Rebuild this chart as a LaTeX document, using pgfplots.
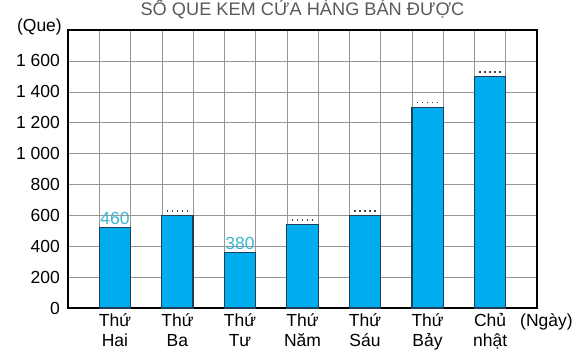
\documentclass[border=0pt]{standalone}
\usepackage{fontspec}
\setmainfont{Liberation Sans}
\usepackage{pgfplots}
\pgfplotsset{compat=1.18}
\definecolor{barfill}{RGB}{0,174,239}
\definecolor{barline}{RGB}{30,62,90}
\definecolor{lblcol}{RGB}{60,180,210}
\definecolor{gridc}{RGB}{150,150,150}
\definecolor{titlec}{RGB}{90,90,90}
\newcommand{\dotrule}{{\color{black!75}\hbox to 25bp{\leaders\hbox to 5bp{\hss\rule{1.4bp}{1.4bp}\hss}\hfill}}}
\begin{document}
\begin{tikzpicture}
\begin{axis}[
  name=ax,
  scale only axis, width=469bp, height=278bp,
  xmin=0, xmax=15, ymin=0, ymax=1800,
  font=\fontsize{17.5bp}{20bp}\selectfont,
  axis line style={black, line width=1.6bp},
  xtick={1.5,3.5,5.5,7.5,9.5,11.5,13.5},
  xticklabels={{Thứ\\Hai},{Thứ\\Ba},{Thứ\\Tư},{Thứ\\Năm},{Thứ\\Sáu},{Thứ\\Bảy},{Chủ\\nhật}},
  minor xtick={1,2,...,14},
  xminorgrids=true, ymajorgrids=true, xmajorgrids=false,
  grid style={gridc, line width=0.5bp},
  minor grid style={gridc, line width=0.5bp},
  major tick length=0pt, minor tick length=0pt,
  ytick={0,200,400,600,800,1000,1200,1400,1600},
  yticklabels={0,200,400,600,800,{1\ 000},{1\ 200},{1\ 400},{1\ 600}},
  yticklabel style={anchor=east, inner sep=0pt, xshift=-8bp},
  xticklabel style={align=center, anchor=base, inner sep=0pt, yshift=-38.7bp},
  every axis y label/.style={at={(axis description cs:0,1)}, anchor=east, inner sep=0pt, xshift=-6bp, yshift=3bp},
  ylabel={(Que)},
  every axis x label/.style={at={(axis description cs:1,0)}, anchor=base west, inner sep=0pt, xshift=-17bp, yshift=-18.7bp},
  xlabel={(Ngày)},
  title={SỐ QUE KEM CỬA HÀNG BÁN ĐƯỢC},
  title style={at={(axis description cs:0.5,1)}, anchor=base, inner sep=0pt, yshift=8.3bp, text=titlec, font=\fontsize{18.2bp}{20bp}\selectfont},
]
\addplot[ybar, bar width=1, fill=barfill, draw=barline, line width=1.2bp]
  coordinates {(1.5,520) (3.5,600) (5.5,360) (7.5,540) (9.5,600) (11.5,1300) (13.5,1500)};
\addplot[draw=none, mark=none, point meta=explicit symbolic,
  nodes near coords={\textcolor{lblcol}{\pgfplotspointmeta}},
  every node near coord/.append style={anchor=base, inner sep=0pt, yshift=3bp}]
  coordinates {(1.5,520)[460] (5.5,360)[380]};
\addplot[draw=none, mark=none,
  nodes near coords={\dotrule},
  every node near coord/.append style={anchor=south, inner sep=0pt, yshift=3.6bp}]
  coordinates {(3.5,600) (7.5,540) (9.5,600) (11.5,1300) (13.5,1500)};
\end{axis}
\pgfresetboundingbox
\path[use as bounding box] ([shift={(-68bp,-49bp)}]ax.south west) rectangle ([shift={(49bp,30bp)}]ax.north east);
\end{tikzpicture}
\end{document}
